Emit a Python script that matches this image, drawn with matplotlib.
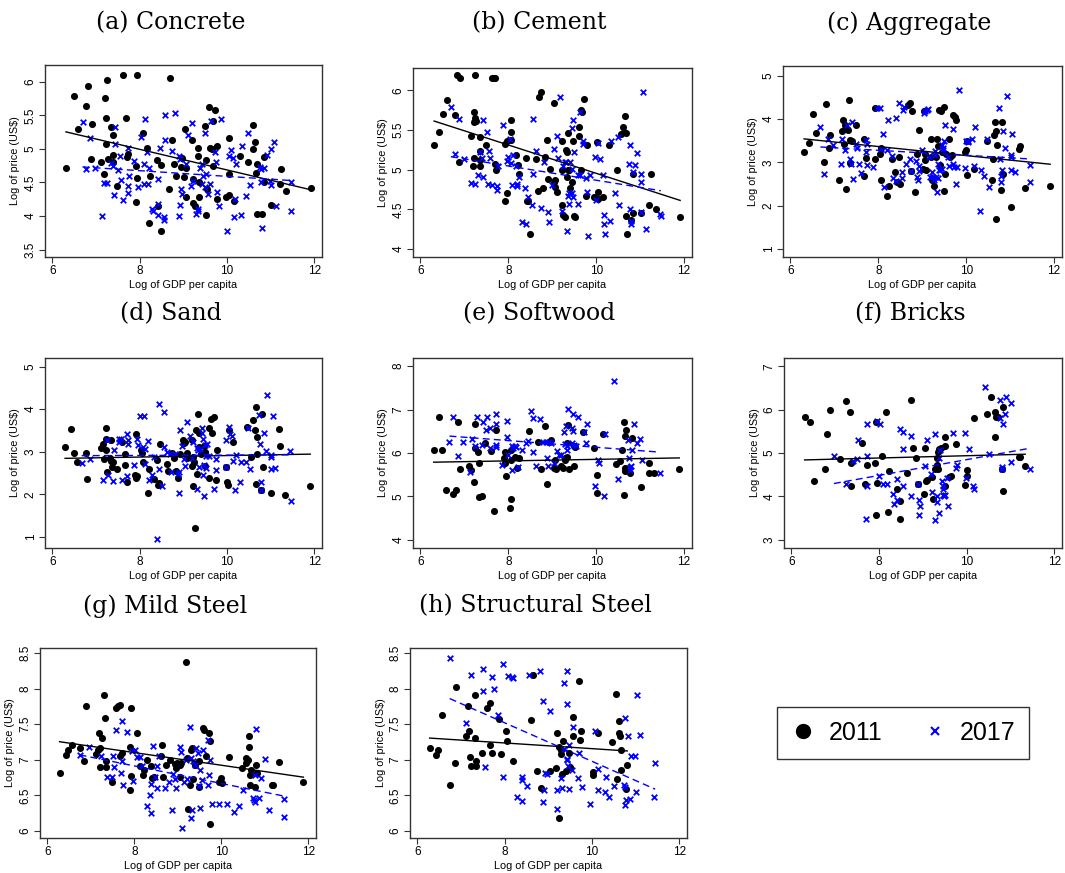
import numpy as np
import matplotlib
matplotlib.use('Agg')
import matplotlib.pyplot as plt
from matplotlib.lines import Line2D
from matplotlib.ticker import FormatStrFormatter

plt.rcParams['font.family'] = ['Liberation Sans', 'DejaVu Sans']

# (log GDP per capita, log price)
concrete_2011 = [(6.31,4.71),(6.5,5.79),(6.59,5.29),(6.76,5.64),(6.82,5.94),(6.88,4.85),(6.9,5.37),(7.12,4.80),
    (7.18,4.62),(7.2,5.76),(7.22,5.46),(7.22,5.07),(7.25,6.02),(7.28,4.85),(7.34,5.32),(7.38,4.80),(7.39,5.20),
    (7.38,4.91),(7.49,4.45),(7.61,6.10),(7.68,5.46),(7.70,4.88),(7.74,4.93),(7.91,4.74),(7.93,6.10),(7.95,4.57),
    (7.91,4.21),(8.08,5.24),(8.16,5.02),(8.22,3.89),(8.24,4.59),(8.39,4.84),(8.42,4.15),(8.48,4.76),(8.48,3.78),
    (8.68,4.40),(8.70,6.06),(8.74,5.14),(8.78,4.77),(8.84,4.60),(8.94,4.73),(8.98,4.87),(9.02,4.58),(9.04,5.30),
    (9.07,4.28),(9.07,4.71),(9.21,5.13),(9.23,4.19),(9.26,4.15),(9.23,4.55),(9.33,5.02),(9.33,4.90),(9.35,4.29),
    (9.35,4.50),(9.5,5.34),(9.51,4.01),(9.52,4.84),(9.54,4.41),(9.6,5.63),(9.62,5.02),(9.66,5.0),(9.67,5.41),
    (9.69,4.75),(9.73,5.58),(9.78,5.05),(9.77,4.26),(9.97,4.29),(10.04,4.31),(10.05,5.17),(10.05,4.62),(10.17,4.23),
    (10.29,4.89),(10.49,4.80),(10.59,5.0),(10.60,5.35),(10.65,5.11),(10.66,4.64),(10.69,4.03),(10.70,4.78),
    (10.80,4.03),(10.84,4.88),(10.85,4.50),(11.02,4.17),(11.24,4.70),(11.21,4.48),(11.35,4.38),(11.93,4.42)]
concrete_2017 = [(6.69,5.40),(6.76,4.70),(6.86,5.17),(6.98,4.72),(7.13,4.00),(7.18,4.49),(7.25,4.49),(7.34,4.79),
    (7.38,4.75),(7.43,5.32),(7.43,5.08),(7.41,4.31),(7.51,4.68),(7.54,4.90),(7.58,4.54),(7.61,4.24),(7.74,5.01),
    (7.75,4.60),(7.74,4.45),(7.74,4.35),(7.87,4.82),(7.97,4.43),(8.04,5.18),(8.09,4.78),(8.12,5.44),(8.10,4.47),
    (8.16,4.96),(8.19,4.48),(8.22,4.72),(8.29,4.11),(8.31,4.07),(8.41,4.55),(8.41,4.18),(8.42,4.01),(8.47,5.02),
    (8.55,3.99),(8.55,3.94),(8.58,5.13),(8.57,5.51),(8.73,4.97),(8.82,5.53),(8.91,4.90),(8.92,4.85),(8.92,4.16),
    (8.91,4.00),(8.94,4.40),(8.97,4.33),(9.07,4.77),(9.11,5.20),(9.17,4.45),(9.20,5.38),(9.22,4.52),(9.30,4.03),
    (9.33,4.11),(9.34,4.08),(9.39,4.72),(9.43,4.47),(9.44,4.77),(9.46,4.60),(9.49,5.24),(9.49,4.44),(9.53,4.62),
    (9.56,4.33),(9.62,4.47),(9.63,5.41),(9.72,4.96),(9.76,4.80),(9.78,4.36),(9.81,4.15),(9.86,5.44),(10.0,3.77),
    (10.04,4.90),(10.09,4.99),(10.14,4.86),(10.18,4.26),(10.17,3.99),(10.21,4.77),(10.32,4.01),(10.34,5.05),
    (10.43,4.30),(10.49,5.23),(10.53,4.46),(10.76,4.73),(10.79,4.70),(10.78,4.50),(10.80,3.82),(10.85,4.71),
    (10.91,4.91),(10.98,4.52),(11.02,5.00),(11.02,4.46),(11.07,5.11),(11.13,4.15),(11.47,4.51),(11.48,4.07)]

cement_2011 = [(6.31,5.31),(6.43,5.48),(6.51,5.70),(6.60,5.88),(6.78,5.69),(6.83,6.19),(6.88,5.10),(6.91,6.16),
    (7.14,5.42),(7.20,5.04),(7.21,5.73),(7.21,5.60),(7.21,5.15),(7.24,5.65),(7.25,6.19),(7.27,5.61),(7.35,5.41),
    (7.35,5.04),(7.36,5.24),(7.36,5.12),(7.50,5.31),(7.62,6.15),(7.67,6.16),(7.69,6.16),(7.70,5.07),(7.71,5.00),
    (7.92,5.32),(7.92,4.60),(7.96,5.36),(7.96,4.71),(8.05,5.63),(8.07,5.48),(8.07,5.37),(8.17,5.19),(8.21,5.06),
    (8.25,4.94),(8.40,5.15),(8.42,4.60),(8.45,4.60),(8.49,4.19),(8.64,5.13),(8.68,4.73),(8.69,5.91),(8.74,5.98),
    (8.78,4.77),(8.84,5.16),(8.87,5.37),(8.95,5.01),(8.91,4.88),(9.03,4.85),(9.05,5.84),(9.07,4.87),(9.07,4.78),
    (9.10,4.72),(9.22,5.36),(9.22,4.99),(9.23,4.56),(9.25,4.43),(9.28,4.40),(9.32,5.25),(9.33,5.22),(9.33,4.91),
    (9.35,5.46),(9.35,5.00),(9.38,4.99),(9.41,4.77),(9.45,4.85),(9.48,5.36),(9.50,4.42),(9.51,4.40),(9.60,5.54),
    (9.61,5.43),(9.65,4.99),(9.65,5.75),(9.67,5.73),(9.73,5.89),(9.76,4.67),(9.79,5.31),(9.96,4.66),(10.02,5.35),
    (10.03,4.72),(10.03,4.63),(10.15,4.65),(10.28,5.31),(10.47,4.99),(10.57,5.45),(10.60,5.54),(10.64,5.47),
    (10.66,5.68),(10.68,4.41),(10.68,5.46),(10.70,4.19),(10.79,4.36),(10.84,4.94),(10.84,4.46),(11.03,4.45),
    (11.21,4.56),(11.24,4.94),(11.35,4.51),(11.91,4.40)]
cement_2017 = [(6.69,5.79),(6.78,5.20),(6.88,5.64),(6.98,5.14),(7.15,4.83),(7.24,4.82),(7.30,4.93),(7.36,5.22),
    (7.39,5.15),(7.43,5.62),(7.43,4.91),(7.52,5.48),(7.56,5.24),(7.53,4.82),(7.59,5.15),(7.62,4.81),(7.75,4.79),
    (7.75,4.74),(7.76,5.05),(7.87,5.56),(7.97,5.11),(7.99,5.16),(8.04,5.39),(8.07,5.08),(8.08,4.81),(8.11,5.19),
    (8.17,5.04),(8.19,4.82),(8.20,4.79),(8.25,4.91),(8.31,4.34),(8.39,4.77),(8.40,4.32),(8.45,4.65),(8.53,4.56),
    (8.57,5.64),(8.57,4.94),(8.64,5.23),(8.74,4.52),(8.81,5.10),(8.91,4.47),(8.92,4.34),(8.99,4.81),(9.04,5.26),
    (9.12,5.15),(9.10,5.43),(9.18,5.91),(9.22,4.48),(9.25,5.04),(9.29,5.09),(9.32,5.10),(9.33,4.23),(9.35,4.67),
    (9.38,4.70),(9.39,4.57),(9.41,5.10),(9.44,4.70),(9.45,5.01),(9.45,5.52),(9.47,5.62),(9.48,4.65),(9.50,5.22),
    (9.58,4.57),(9.58,4.93),(9.63,4.93),(9.63,5.72),(9.70,5.32),(9.71,5.36),(9.76,4.89),(9.79,4.72),(9.81,4.17),
    (9.86,4.93),(9.98,5.16),(10.0,4.62),(10.05,5.33),(10.09,5.13),(10.15,4.93),(10.17,4.43),(10.18,4.31),
    (10.21,4.19),(10.32,4.35),(10.34,5.36),(10.43,4.70),(10.49,5.41),(10.52,4.56),(10.75,5.07),(10.78,5.31),
    (10.78,4.51),(10.79,4.35),(10.80,4.32),(10.84,4.97),(10.89,5.06),(10.93,5.21),(11.01,4.84),(11.02,4.95),
    (11.02,4.47),(11.07,5.98),(11.13,4.25),(11.46,4.44),(11.47,4.41)]

aggregate_2011 = [(6.31,3.23),(6.43,3.44),(6.51,4.11),(6.59,3.68),(6.76,3.0),(6.82,4.34),(6.88,3.32),(6.91,3.63),
    (7.11,2.60),(7.18,3.72),(7.20,3.97),(7.21,3.42),(7.23,3.85),(7.24,3.76),(7.27,2.39),(7.32,3.74),(7.33,4.44),
    (7.36,3.51),(7.36,2.99),(7.39,3.50),(7.49,3.87),(7.67,2.68),(7.68,3.54),(7.73,3.10),(7.92,3.08),(7.93,4.25),
    (8.04,3.20),(8.06,3.34),(8.07,2.60),(8.20,2.23),(8.24,2.46),(8.32,3.07),(8.39,2.77),(8.42,2.54),(8.46,3.11),
    (8.49,2.51),(8.67,4.31),(8.71,4.36),(8.74,2.79),(8.77,4.19),(8.84,2.31),(8.87,3.19),(8.93,3.74),(9.01,2.85),
    (9.04,4.19),(9.06,3.05),(9.07,3.20),(9.09,2.82),(9.19,3.53),(9.19,3.11),(9.22,2.59),(9.27,2.46),(9.32,3.13),
    (9.33,3.54),(9.35,3.37),(9.38,4.21),(9.41,2.93),(9.42,4.18),(9.44,3.23),(9.50,4.27),(9.50,2.34),(9.52,2.74),
    (9.53,3.19),(9.60,3.54),(9.64,3.13),(9.67,3.17),(9.71,4.10),(9.74,4.05),(9.76,3.97),(10.02,2.70),(9.97,3.23),
    (10.0,3.28),(10.02,3.48),(10.17,2.85),(10.47,3.48),(10.58,2.59),(10.61,3.08),(10.64,3.62),(10.66,3.94),
    (10.67,1.69),(10.68,3.73),(10.69,3.39),(10.79,2.37),(10.82,3.94),(10.84,2.73),(11.02,1.97),(11.20,3.30),
    (11.22,3.37),(11.34,2.40),(11.91,2.45)]
aggregate_2017 = [(6.68,3.82),(6.77,2.73),(6.86,3.54),(6.97,3.40),(7.14,2.97),(7.17,3.54),(7.23,3.28),(7.29,3.85),
    (7.35,3.07),(7.38,2.97),(7.39,3.93),(7.43,2.62),(7.50,3.42),(7.52,3.33),(7.56,2.97),(7.61,2.76),(7.73,3.24),
    (7.73,3.51),(7.75,3.42),(7.75,2.93),(7.87,2.88),(7.97,4.25),(8.04,4.25),(8.05,3.30),(8.10,3.65),(8.13,2.43),
    (8.19,3.28),(8.22,3.97),(8.31,3.14),(8.34,2.63),(8.40,4.02),(8.40,2.57),(8.46,4.36),(8.53,2.77),(8.54,2.63),
    (8.55,4.21),(8.58,4.28),(8.63,2.97),(8.72,3.08),(8.75,2.80),(8.86,3.02),(8.89,2.65),(8.90,2.60),(8.92,2.91),
    (8.93,2.80),(8.99,3.28),(9.04,4.13),(9.07,4.19),(9.10,4.21),(9.13,4.22),(9.16,3.13),(9.18,2.66),(9.21,2.77),
    (9.24,2.66),(9.27,2.60),(9.29,3.25),(9.30,3.17),(9.32,2.65),(9.33,2.31),(9.35,2.97),(9.36,2.63),(9.38,2.83),
    (9.41,2.82),(9.44,2.85),(9.45,3.39),(9.47,3.28),(9.48,3.34),(9.50,3.50),(9.51,3.85),(9.59,3.13),(9.61,2.91),
    (9.70,2.96),(9.71,3.76),(9.73,2.90),(9.77,2.51),(9.80,2.90),(9.83,4.67),(9.97,2.87),(9.99,3.50),(10.03,3.48),
    (10.05,3.47),(10.14,3.53),(10.17,2.91),(10.20,3.81),(10.31,1.88),(10.34,2.83),(10.41,2.68),(10.47,3.54),
    (10.52,2.42),(10.75,4.24),(10.77,3.08),(10.80,2.68),(10.80,2.54),(10.84,3.73),(10.82,2.82),(10.88,3.34),
    (10.93,4.53),(11.01,3.16),(11.02,3.13),(11.05,3.65),(11.01,2.82),(11.11,2.77),(11.45,2.93),(11.46,2.54)]

sand_2011 = [(6.29,3.11),(6.42,3.53),(6.50,2.98),(6.57,2.77),(6.76,2.98),(6.80,2.36),(7.11,3.08),(7.17,3.19),
    (7.19,2.84),(7.22,3.05),(7.23,3.55),(7.23,3.30),(7.26,2.52),(7.32,2.86),(7.34,2.78),(7.35,3.28),(7.37,2.64),
    (7.38,2.75),(7.48,2.59),(7.60,3.23),(7.66,2.94),(7.67,2.69),(7.72,2.28),(7.90,2.45),(7.92,3.41),(7.92,2.38),
    (7.93,2.42),(8.03,3.03),(8.06,2.97),(8.07,2.75),(8.20,2.02),(8.22,2.59),(8.33,2.36),(8.39,2.80),(8.41,2.23),
    (8.45,2.26),(8.47,3.19),(8.62,2.72),(8.66,2.55),(8.74,2.97),(8.79,2.86),(8.84,2.55),(8.88,2.39),(8.93,2.95),
    (8.99,3.27),(9.02,3.20),(9.04,3.23),(9.08,2.97),(9.08,2.86),(9.20,3.28),(9.22,2.88),(9.21,2.66),(9.23,2.20),
    (9.25,2.77),(9.27,1.22),(9.30,3.52),(9.32,2.47),(9.34,3.89),(9.36,3.45),(9.37,3.11),(9.40,2.94),(9.48,3.14),
    (9.49,2.66),(9.50,3.0),(9.58,2.39),(9.59,3.55),(9.64,3.77),(9.65,3.45),(9.71,3.81),(9.74,2.34),(9.77,3.05),
    (9.97,2.64),(10.01,2.28),(10.02,2.23),(10.04,3.52),(10.15,3.22),(10.47,3.58),(10.56,2.88),(10.59,3.75),
    (10.64,3.50),(10.66,4.05),(10.67,2.25),(10.69,3.34),(10.69,2.94),(10.81,3.89),(10.82,2.64),(10.79,2.09),
    (11.02,2.03),(11.19,3.53),(11.22,3.13),(11.34,1.98),(11.91,2.20)]
sand_2017 = [(6.67,2.73),(6.86,2.84),(7.15,2.34),(7.28,2.45),(7.25,3.27),(7.40,2.31),(7.41,3.03),(7.52,3.31),
    (7.53,3.23),(7.57,3.30),(7.60,2.33),(7.70,3.41),(7.72,2.42),(7.74,3.17),(7.74,3.28),(7.86,2.70),(7.95,3.31),
    (7.96,3.16),(8.01,3.83),(8.07,3.11),(8.10,3.83),(8.12,3.06),(8.13,2.72),(8.18,3.25),(8.22,2.34),(8.29,2.45),
    (8.32,2.88),(8.39,0.94),(8.45,2.59),(8.45,4.13),(8.52,2.19),(8.55,3.94),(8.56,3.11),(8.62,3.0),(8.70,2.94),
    (8.71,2.53),(8.81,2.95),(8.87,2.47),(8.91,2.53),(8.90,2.02),(8.93,3.50),(8.96,3.14),(9.02,2.84),(9.04,2.66),
    (9.08,3.69),(9.16,3.36),(9.19,2.86),(9.23,3.23),(9.32,3.09),(9.32,2.13),(9.34,3.05),(9.37,2.64),(9.39,3.06),
    (9.43,3.56),(9.43,3.44),(9.45,3.30),(9.45,2.45),(9.47,2.70),(9.48,1.95),(9.49,3.16),(9.51,2.89),(9.52,2.61),
    (9.55,3.17),(9.59,2.89),(9.71,2.13),(9.75,2.83),(9.76,2.56),(9.98,3.27),(9.98,2.64),(10.04,3.58),(10.07,3.41),
    (10.12,3.36),(10.15,2.78),(10.18,2.09),(10.21,2.92),(10.30,2.28),(10.33,2.75),(10.43,2.77),(10.49,3.56),
    (10.52,2.59),(10.73,3.86),(10.76,3.19),(10.79,2.30),(10.78,2.09),(10.84,3.45),(10.89,3.02),(10.92,4.33),
    (11.0,2.92),(11.01,2.88),(11.02,2.59),(11.05,3.83),(11.11,2.62),(11.45,3.02),(11.47,1.84)]

softwood_2011 = [(6.30,6.06),(6.42,6.82),(6.50,6.06),(6.59,5.15),(6.75,5.05),(6.81,5.15),(6.86,6.71),(6.89,5.62),
    (7.10,5.69),(7.16,5.60),(7.21,5.32),(7.23,6.11),(7.24,6.66),(7.32,6.02),(7.33,5.77),(7.34,4.98),(7.39,5.02),
    (7.48,6.23),(7.60,6.05),(7.67,4.66),(7.71,6.52),(7.90,5.89),(7.93,6.02),(7.93,5.77),(7.94,5.46),(8.03,4.74),
    (8.06,5.85),(8.07,4.95),(8.06,6.08),(8.15,5.91),(8.19,5.66),(8.25,5.88),(8.46,6.51),(8.67,6.26),(8.75,5.63),
    (8.83,6.62),(8.89,5.29),(8.92,6.26),(8.96,6.29),(9.04,5.65),(9.06,5.83),(9.09,5.63),(9.19,5.69),(9.24,5.65),
    (9.28,5.88),(9.29,5.83),(9.33,6.22),(9.33,5.91),(9.36,6.65),(9.39,5.63),(9.50,5.69),(9.50,6.17),(9.51,6.14),
    (9.71,6.48),(9.94,6.11),(10.02,5.49),(10.02,5.08),(10.15,6.43),(10.46,5.75),(10.55,5.82),(10.58,6.06),
    (10.63,5.03),(10.64,6.72),(10.65,6.40),(10.67,6.54),(10.65,5.66),(10.66,5.58),(10.78,5.54),(10.82,6.34),
    (11.02,5.22),(11.19,5.77),(11.20,5.54),(11.32,5.54),(11.89,5.62)]
softwood_2017 = [(6.66,6.25),(6.75,6.82),(6.85,5.94),(6.97,6.25),(7.12,5.57),(7.17,6.32),(7.23,6.17),(7.29,6.82),
    (7.39,6.18),(7.42,6.71),(7.50,6.52),(7.52,6.82),(7.58,6.58),(7.58,6.11),(7.71,6.68),(7.71,6.18),(7.73,6.91),
    (7.73,6.14),(7.85,5.72),(7.96,6.37),(7.97,6.74),(8.00,5.95),(8.08,6.15),(8.09,5.60),(8.11,6.12),(8.15,6.17),
    (8.17,6.14),(8.22,5.68),(8.31,6.08),(8.40,6.23),(8.44,6.28),(8.51,6.97),(8.55,6.80),(8.57,6.02),(8.63,5.69),
    (8.73,6.78),(8.78,6.26),(8.86,6.25),(8.89,5.89),(8.90,5.71),(8.93,6.25),(8.96,6.22),(9.05,5.78),(9.10,6.05),
    (9.15,5.95),(9.19,5.95),(9.27,6.49),(9.28,6.20),(9.31,6.63),(9.33,6.17),(9.34,6.06),(9.36,7.02),(9.44,6.58),
    (9.45,6.22),(9.47,6.89),(9.48,6.51),(9.50,6.18),(9.54,6.15),(9.59,6.83),(9.72,6.48),(9.77,6.22),(9.78,6.66),
    (9.97,5.23),(10.03,5.85),(10.06,5.77),(10.17,5.02),(10.21,6.43),(10.41,7.65),(10.50,5.40),(10.73,6.29),
    (10.75,5.89),(10.76,5.60),(10.78,5.68),(10.80,5.71),(10.82,6.06),(10.87,6.68),(10.93,6.22),(10.99,6.32),
    (11.05,5.83),(11.45,5.54)]

bricks_2011 = [(6.30,5.82),(6.43,5.72),(6.51,4.35),(6.76,4.62),(6.82,5.43),(6.88,6.0),(7.12,4.86),(7.24,6.20),
    (7.33,5.94),(7.35,4.77),(7.36,4.25),(7.61,5.24),(7.68,4.29),(7.73,4.72),(7.91,4.78),(7.93,3.57),(7.94,5.72),
    (7.96,4.30),(8.07,4.93),(8.15,5.94),(8.20,3.63),(8.23,4.58),(8.42,4.17),(8.48,3.89),(8.48,3.49),(8.63,4.55),
    (8.74,6.22),(8.77,5.11),(8.84,4.88),(8.90,4.29),(9.03,4.05),(9.04,5.11),(9.08,4.36),(9.10,4.38),(9.21,4.45),
    (9.23,3.94),(9.29,4.62),(9.32,4.88),(9.33,4.72),(9.34,5.02),(9.35,4.62),(9.37,5.09),(9.42,5.11),(9.50,5.17),
    (9.50,5.38),(9.51,4.25),(9.61,4.45),(9.65,4.46),(9.77,5.21),(9.96,4.26),(10.02,4.60),(10.02,4.46),(10.17,5.80),
    (10.47,5.89),(10.56,6.29),(10.66,5.94),(10.64,5.37),(10.67,5.83),(10.71,5.82),(10.80,4.62),(10.83,6.06),
    (10.84,4.12),(11.19,4.91),(11.22,4.91),(11.34,4.69)]
bricks_2017 = [(6.97,4.94),(7.24,4.29),(7.41,4.82),(7.50,4.86),(7.52,5.31),(7.73,5.66),(7.73,4.92),(7.73,4.23),
    (7.71,3.48),(7.96,5.74),(7.99,4.48),(8.02,5.66),(8.08,4.28),(8.19,4.28),(8.31,4.06),(8.35,3.83),(8.42,4.40),
    (8.42,3.92),(8.47,5.55),(8.54,5.49),(8.54,4.23),(8.55,5.09),(8.72,5.40),(8.74,4.0),(8.90,4.28),(8.92,3.92),
    (8.93,3.78),(8.92,3.57),(9.06,4.69),(9.09,5.31),(9.18,4.51),(9.21,4.09),(9.29,5.43),(9.29,3.45),(9.33,4.02),
    (9.33,3.86),(9.36,3.62),(9.38,4.89),(9.39,5.08),(9.44,4.35),(9.46,4.03),(9.46,4.18),(9.47,4.25),(9.48,4.02),
    (9.51,4.03),(9.55,4.43),(9.58,3.77),(9.70,5.45),(9.75,4.66),(9.78,4.72),(9.96,5.46),(9.98,4.42),(10.06,5.09),
    (10.15,4.23),(10.17,4.17),(10.41,6.51),(10.52,4.98),(10.76,6.22),(10.76,5.80),(10.80,4.68),(10.81,4.62),
    (10.84,5.66),(10.87,5.91),(10.91,6.29),(11.01,6.15),(11.01,4.80),(11.46,4.63)]

mild_steel_2011 = [(6.28,6.82),(6.42,7.06),(6.48,7.13),(6.57,7.21),(6.74,7.16),(6.85,6.98),(6.88,7.75),(7.12,7.08),
    (7.17,7.14),(7.19,7.37),(7.20,7.17),(7.22,6.90),(7.26,7.30),(7.31,7.91),(7.32,7.58),(7.34,6.98),(7.35,6.90),
    (7.48,6.68),(7.58,7.72),(7.63,7.75),(7.67,7.77),(7.67,7.05),(7.72,7.10),(7.89,7.18),(7.90,6.58),(7.92,7.72),
    (7.93,6.77),(8.06,7.38),(8.12,6.91),(8.19,6.78),(8.22,6.86),(8.30,6.99),(8.38,6.91),(8.41,6.74),(8.45,6.76),
    (8.61,7.05),(8.64,7.21),(8.67,6.76),(8.74,6.92),(8.81,7.00),(8.93,6.94),(8.96,6.89),(8.99,6.96),(9.04,6.92),
    (9.05,6.76),(9.07,6.96),(9.19,8.37),(9.22,7.03),(9.24,6.31),(9.27,6.64),(9.30,7.13),(9.33,7.16),(9.34,6.73),
    (9.39,6.93),(9.48,6.62),(9.49,6.98),(9.59,7.45),(9.60,7.42),(9.66,7.05),(9.71,7.38),(9.75,7.27),(9.74,6.10),
    (9.95,6.69),(10.0,6.75),(10.01,6.67),(10.17,7.04),(10.47,6.88),(10.56,7.02),(10.58,6.95),(10.62,7.00),
    (10.64,7.34),(10.64,7.18),(10.66,6.65),(10.67,6.78),(10.69,6.86),(10.78,6.61),(10.81,6.93),(10.82,6.82),
    (11.16,6.64),(11.19,6.64),(11.33,6.97),(11.89,6.68)]
mild_steel_2017 = [(6.74,7.06),(6.96,7.18),(7.23,7.05),(7.38,6.76),(7.49,6.76),(7.51,7.05),(7.54,6.90),(7.58,7.42),
    (7.72,7.54),(7.70,6.82),(7.72,6.98),(7.74,6.65),(7.84,7.39),(7.95,7.12),(7.98,6.70),(8.01,7.13),(8.06,7.04),
    (8.14,7.04),(8.18,6.91),(8.29,6.35),(8.36,6.50),(8.38,6.25),(8.39,6.66),(8.44,7.19),(8.48,6.76),(8.52,6.60),
    (8.53,6.91),(8.56,7.05),(8.71,6.60),(8.79,6.68),(8.87,6.29),(8.90,6.80),(8.93,6.73),(8.96,6.60),(9.04,7.18),
    (9.07,7.11),(9.10,6.04),(9.14,6.68),(9.19,6.99),(9.22,6.73),(9.27,7.46),(9.30,7.02),(9.31,6.18),(9.33,6.29),
    (9.36,6.98),(9.39,6.92),(9.43,7.17),(9.46,7.09),(9.48,6.63),(9.50,6.85),(9.51,6.32),(9.56,6.71),(9.59,7.13),
    (9.69,6.65),(9.71,6.78),(9.69,7.28),(9.75,7.00),(9.78,6.38),(9.95,6.38),(10.14,6.38),(10.30,6.26),(10.41,6.35),
    (10.50,6.57),(10.73,6.46),(10.76,6.44),(10.78,6.40),(10.78,6.79),(10.81,7.43),(10.87,6.46),(10.92,6.75),
    (11.0,7.01),(11.11,6.30),(11.45,6.45),(11.45,6.19)]

structural_steel_2011 = [(6.28,7.17),(6.42,7.06),(6.48,7.13),(6.57,7.63),(6.75,6.64),(6.86,6.95),(6.89,8.02),
    (7.11,7.33),(7.17,7.75),(7.18,7.40),(7.20,7.04),(7.23,6.91),(7.32,7.91),(7.32,7.30),(7.35,6.98),(7.35,6.91),
    (7.47,7.09),(7.59,7.73),(7.67,7.80),(7.67,7.21),(7.71,7.10),(7.88,7.57),(7.91,7.08),(8.04,7.40),(8.05,7.27),
    (8.19,6.98),(8.61,7.56),(8.66,8.19),(8.74,6.84),(8.83,6.60),(9.03,6.84),(9.18,6.89),(9.19,7.38),(9.24,7.18),
    (9.24,6.18),(9.29,7.08),(9.30,7.13),(9.32,6.80),(9.33,7.27),(9.41,6.84),(9.48,7.09),(9.50,6.90),(9.57,7.60),
    (9.57,7.33),(9.70,8.10),(9.73,7.28),(9.76,7.40),(10.02,6.83),(10.02,6.78),(10.15,7.37),(10.46,7.25),
    (10.55,7.92),(10.57,6.73),(10.61,7.38),(10.63,7.55),(10.64,7.34),(10.66,6.86),(10.67,7.14),(10.78,6.59),
    (10.81,6.92)]
structural_steel_2017 = [(6.74,8.43),(7.12,7.52),(7.23,8.19),(7.50,8.27),(7.50,7.96),(7.55,6.90),(7.71,8.16),
    (7.75,7.99),(7.85,7.63),(7.96,8.35),(7.97,6.76),(8.07,8.17),(8.17,8.16),(8.19,8.15),(8.29,6.48),(8.39,6.76),
    (8.39,6.71),(8.40,6.42),(8.52,6.63),(8.55,8.19),(8.80,8.25),(8.89,7.82),(8.89,6.41),(8.90,6.57),(8.93,6.81),
    (8.98,6.80),(9.04,7.69),(9.19,6.57),(9.21,6.31),(9.30,6.75),(9.32,6.60),(9.35,8.08),(9.36,7.15),(9.43,7.01),
    (9.43,8.24),(9.44,7.00),(9.44,7.78),(9.45,6.91),(9.47,6.59),(9.48,7.20),(9.54,6.86),(9.57,7.46),(9.68,6.74),
    (9.71,7.10),(9.77,6.62),(9.96,6.38),(10.07,7.41),(10.15,6.87),(10.15,6.57),(10.29,6.54),(10.32,6.76),
    (10.40,6.47),(10.50,6.63),(10.73,6.64),(10.75,6.61),(10.76,7.58),(10.76,6.37),(10.79,6.43),(10.82,7.33),
    (10.87,6.45),(10.90,7.05),(10.98,7.05),(11.01,6.55),(11.04,7.91),(11.11,7.35),(11.45,6.95),(11.43,6.47)]

panel_titles = ['(a) Concrete', '(b) Cement', '(c) Aggregate', '(d) Sand', '(e) Softwood', '(f) Bricks',
                '(g) Mild Steel', '(h) Structural Steel']
panel_data = [(concrete_2011, concrete_2017), (cement_2011, cement_2017), (aggregate_2011, aggregate_2017),
              (sand_2011, sand_2017), (softwood_2011, softwood_2017), (bricks_2011, bricks_2017),
              (mild_steel_2011, mild_steel_2017), (structural_steel_2011, structural_steel_2017)]
y_ticks = [[3.5, 4, 4.5, 5, 5.5, 6], [4, 4.5, 5, 5.5, 6], [1, 2, 3, 4, 5], [1, 2, 3, 4, 5],
           [4, 5, 6, 7, 8], [3, 4, 5, 6, 7], [6, 6.5, 7, 7.5, 8, 8.5], [6, 6.5, 7, 7.5, 8, 8.5]]
y_lims = [(3.39, 6.25), (3.9, 6.28), (0.815, 5.22), (0.74, 5.2), (3.81, 8.19), (2.81, 7.19),
          (5.9, 8.57), (5.9, 8.57)]
x_ticks = [6, 8, 10, 12]

W, H = 1065, 873
# axes boxes in pixels: left, top, right, bottom
boxes = [(45, 65, 322, 257), (413, 68, 692, 257), (783, 66, 1062, 257),
         (45, 358, 322, 548), (413, 358, 692, 548), (784, 358, 1062, 548),
         (40, 648, 316, 838), (410, 648, 687, 838)]
title_y = [23, 23, 23, 314, 314, 314, 606, 606]

fig = plt.figure(figsize=(W / 100, H / 100), dpi=100)
blue = '#0000ff'

for i, (d11, d17) in enumerate(panel_data):
    l, t, r, b = boxes[i]
    ax = fig.add_axes([l / W, 1 - b / H, (r - l) / W, (b - t) / H])
    x11, y11 = np.array(d11).T
    x17, y17 = np.array(d17).T
    ax.scatter(x11, y11, s=26, c='black', marker='o', linewidths=0, zorder=3)
    ax.scatter(x17, y17, s=16, c=blue, marker='x', linewidths=1.3, zorder=3)
    # linear fits, drawn over each year's range
    k, c = np.polyfit(x11, y11, 1)
    xs = np.array([x11.min(), x11.max()])
    ax.plot(xs, k * xs + c, color='black', lw=1.0, zorder=4)
    k, c = np.polyfit(x17, y17, 1)
    xs = np.array([x17.min(), x17.max()])
    ax.plot(xs, k * xs + c, color=blue, lw=1.0, ls=(0, (5, 3)), zorder=4)

    ax.set_xlim(5.83, 12.18)
    ax.set_ylim(*y_lims[i])
    ax.set_xticks(x_ticks)
    ax.set_yticks(y_ticks[i])
    ax.yaxis.set_major_formatter(FormatStrFormatter('%g'))
    ax.tick_params(axis='both', direction='out', length=4, width=0.8, labelsize=8.5, pad=2, colors='#333333',
                   labelcolor='black')
    for lab in ax.get_yticklabels():
        lab.set_rotation(90)
        lab.set_va('center')
    for sp in ax.spines.values():
        sp.set_color('#333333')
        sp.set_linewidth(1.0)
    ax.set_xlabel('Log of GDP per capita', fontsize=7.8, labelpad=2)
    ax.set_ylabel(r'Log of price (US\$)', fontsize=7.8, labelpad=3)

    cx = (l + r) / 2 - 13
    fig.text(cx / W, 1 - title_y[i] / H, panel_titles[i], ha='center', va='center',
             fontsize=17, family='DejaVu Serif')

handles = [Line2D([], [], ls='none', marker='o', color='black', markersize=10),
           Line2D([], [], ls='none', marker='x', color=blue, markersize=6, markeredgewidth=1.5)]
leg = fig.legend(handles, ['2011', '2017'], loc='center', ncol=2,
                 bbox_to_anchor=(903 / W, 1 - 733 / H), fontsize=18, frameon=True, fancybox=False,
                 edgecolor='black', handlelength=1.0, handletextpad=0.5, columnspacing=1.6,
                 borderpad=0.55, borderaxespad=0)
leg.get_frame().set_linewidth(1.0)

fig.savefig('out.png', dpi=100)
